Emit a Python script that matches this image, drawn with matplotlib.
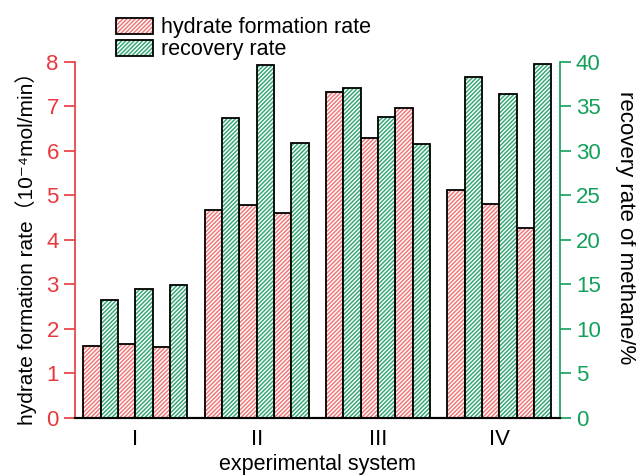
import numpy as np
import matplotlib.pyplot as plt
from matplotlib.patches import Patch

plt.rcParams['font.family'] = ['Liberation Sans', 'DejaVu Sans']
plt.rcParams['hatch.linewidth'] = 1.1

# Data
groups = ['I', 'II', 'III', 'IV']
formation_rate = [  # 10^-4 mol/min
    [1.62, 1.67, 1.59],
    [4.66, 4.79, 4.61],
    [7.31, 6.29, 6.96],
    [5.11, 4.80, 4.26],
]
recovery_rate = [  # %
    [13.2, 14.5, 14.9],
    [33.7, 39.6, 30.9],
    [37.0, 33.8, 30.8],
    [38.3, 36.4, 39.8],
]

RED = '#e8383d'
GREEN = '#13a05a'
HATCH_RED = '#f07a7a'
HATCH_GREEN = '#3aa877'
BAR_W = 0.143
HATCH = '////////'

fig = plt.figure(figsize=(6.36, 4.75), dpi=100)
ax = fig.add_axes([0.1175, 0.12, 0.763, 0.75])
ax2 = ax.twinx()

x = np.arange(1, len(groups) + 1)
for k in range(3):
    xr = x + (2 * k - 2.5) * BAR_W
    xg = x + (2 * k - 1.5) * BAR_W
    hr = [row[k] for row in formation_rate]
    hg = [row[k] for row in recovery_rate]
    # hatch first, then black outline on top
    ax.bar(xr, hr, BAR_W, color='white', edgecolor=HATCH_RED, hatch=HATCH, linewidth=0)
    ax.bar(xr, hr, BAR_W, fill=False, edgecolor='black', linewidth=1.3)
    ax2.bar(xg, hg, BAR_W, color='white', edgecolor=HATCH_GREEN, hatch=HATCH, linewidth=0)
    ax2.bar(xg, hg, BAR_W, fill=False, edgecolor='black', linewidth=1.3)

ax.set_xlim(0.5, 4.5)
ax.set_ylim(0, 8)
ax2.set_ylim(0, 40)

ax.set_xticks(x)
ax.set_xticklabels(groups)
ax.tick_params(axis='x', length=0, labelsize=16, pad=8)
ax.tick_params(axis='y', colors=RED, labelsize=16, length=8, width=1.2)
ax2.tick_params(axis='y', colors=GREEN, labelsize=16, length=8, width=1.2)

for a in (ax, ax2):
    a.spines['top'].set_visible(False)
ax.spines['left'].set_color(RED)
ax.spines['left'].set_linewidth(1.2)
ax.spines['right'].set_visible(False)
ax2.spines['left'].set_visible(False)
ax2.spines['right'].set_color(GREEN)
ax2.spines['right'].set_linewidth(1.2)
ax2.spines['bottom'].set_color('black')
ax2.spines['bottom'].set_linewidth(1.5)
ax.spines['bottom'].set_linewidth(1.5)

ax.set_xlabel('experimental system', fontsize=15.5, va='center')
ax.xaxis.set_label_coords(0.5, -0.13)
ax.set_ylabel('hydrate formation rate（10⁻⁴mol/min）', fontsize=15, va='center',
              family=['Liberation Sans', 'Noto Sans CJK SC', 'DejaVu Sans'])
ax.yaxis.set_label_coords(-0.1, 0.49)
ax2.set_ylabel('recovery rate of methane/%', fontsize=16, rotation=270, va='center')
ax2.yaxis.set_label_coords(1.135, 0.535)

# legend with hatched swatches and black borders
red_h = (Patch(facecolor='white', edgecolor=HATCH_RED, hatch=HATCH, linewidth=0),
         Patch(fill=False, edgecolor='black', linewidth=1.3))
green_h = (Patch(facecolor='white', edgecolor=HATCH_GREEN, hatch=HATCH, linewidth=0),
           Patch(fill=False, edgecolor='black', linewidth=1.3))
fig.legend([red_h, green_h], ['hydrate formation rate', 'recovery rate'],
           loc='upper left', bbox_to_anchor=(0.155, 1.0), frameon=False,
           fontsize=15.5, handlelength=1.75, handleheight=0.8,
           labelspacing=0.05, handletextpad=0.35, borderpad=0.3)

fig.savefig('out.png', dpi=100)
